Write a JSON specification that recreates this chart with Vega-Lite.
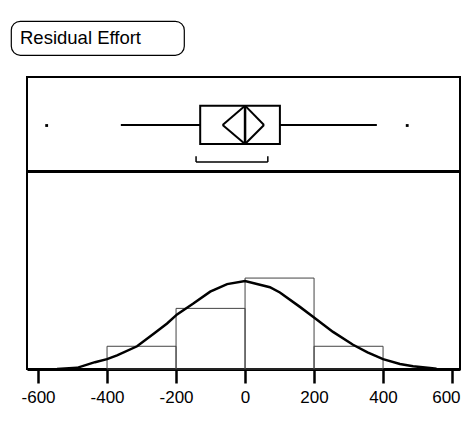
{
  "$schema": "https://vega.github.io/schema/vega-lite/v6.json",
  "padding": {"left": 10, "top": 20, "right": 0, "bottom": 0},
  "background": "white",
  "config": {
    "view": {"stroke": "black", "strokeWidth": 2},
    "font": "Liberation Sans"
  },
  "datasets": {
    "stats": [{"q1": -130, "q3": 101, "median": 0, "wlo": -360, "whi": 382, "mean": 0, "cilo": -65, "cihi": 55, "shlo": -142, "shhi": 66}],
    "outliers": [{"value": -575}, {"value": 470}],
    "bins": [
      {"bin_start": -400, "bin_end": -200, "count": 3},
      {"bin_start": -200, "bin_end": 0, "count": 8},
      {"bin_start": 0, "bin_end": 200, "count": 12},
      {"bin_start": 200, "bin_end": 400, "count": 3}
    ],
    "curve": [
      {"value": -545, "density": 0},
      {"value": -487, "density": 0.15},
      {"value": -435, "density": 0.9},
      {"value": -400, "density": 1.3},
      {"value": -371, "density": 1.8},
      {"value": -313, "density": 3.0},
      {"value": -261, "density": 4.8},
      {"value": -226, "density": 6.0},
      {"value": -197, "density": 7.2},
      {"value": -151, "density": 8.6},
      {"value": -101, "density": 10.2},
      {"value": -52, "density": 11.2},
      {"value": 0, "density": 11.6},
      {"value": 72, "density": 10.8},
      {"value": 101, "density": 10.1},
      {"value": 159, "density": 8.2},
      {"value": 197, "density": 6.9},
      {"value": 255, "density": 4.9},
      {"value": 313, "density": 3.2},
      {"value": 355, "density": 2.2},
      {"value": 400, "density": 1.3},
      {"value": 449, "density": 0.66},
      {"value": 487, "density": 0.35},
      {"value": 536, "density": 0.13},
      {"value": 555, "density": 0.03}
    ]
  },
  "spacing": 20,
  "vconcat": [
    {
      "width": 173,
      "height": 34,
      "view": {"stroke": "black", "strokeWidth": 1.2, "cornerRadius": 9},
      "data": {"values": [{"label": "Residual Effort"}]},
      "mark": {"type": "text", "align": "left", "baseline": "middle", "fontSize": 18.5, "font": "Liberation Sans", "color": "black", "dx": 9},
      "encoding": {
        "text": {"field": "label"},
        "x": {"datum": 0, "type": "quantitative", "scale": {"domain": [0, 1]}, "axis": null},
        "y": {"datum": 0.5, "type": "quantitative", "scale": {"domain": [0, 1]}, "axis": null}
      }
    },
    {
      "spacing": 8,
      "hconcat": [
        {
          "width": 1,
          "height": 1,
          "view": {"stroke": null},
          "data": {"values": []},
          "mark": {"type": "point"},
          "encoding": {}
        },
        {
          "spacing": -2,
          "vconcat": [
            {
              "width": 433,
              "height": 94,
              "data": {"name": "stats"},
              "layer": [
                {
                  "mark": {"type": "rule", "color": "black", "strokeWidth": 2},
                  "encoding": {
                    "x": {"field": "wlo", "type": "quantitative", "scale": {"domain": [-632, 623], "nice": false, "zero": false}, "axis": null},
                    "x2": {"field": "q1"},
                    "y": {"datum": 0.49, "type": "quantitative", "scale": {"domain": [0, 1]}, "axis": null}
                  }
                },
                {
                  "mark": {"type": "rule", "color": "black", "strokeWidth": 2},
                  "encoding": {
                    "x": {"field": "q3", "type": "quantitative"},
                    "x2": {"field": "whi"},
                    "y": {"datum": 0.49, "type": "quantitative"}
                  }
                },
                {
                  "mark": {"type": "rect", "fill": "white", "stroke": "black", "strokeWidth": 2},
                  "encoding": {
                    "x": {"field": "q1", "type": "quantitative"},
                    "x2": {"field": "q3"},
                    "y": {"datum": 0.287, "type": "quantitative"},
                    "y2": {"datum": 0.695}
                  }
                },
                {
                  "mark": {"type": "rule", "color": "black", "strokeWidth": 2},
                  "encoding": {
                    "x": {"field": "cilo", "type": "quantitative"},
                    "y": {"datum": 0.49, "type": "quantitative"},
                    "x2": {"field": "mean"},
                    "y2": {"datum": 0.695}
                  }
                },
                {
                  "mark": {"type": "rule", "color": "black", "strokeWidth": 2},
                  "encoding": {
                    "x": {"field": "mean", "type": "quantitative"},
                    "y": {"datum": 0.695, "type": "quantitative"},
                    "x2": {"field": "cihi"},
                    "y2": {"datum": 0.49}
                  }
                },
                {
                  "mark": {"type": "rule", "color": "black", "strokeWidth": 2},
                  "encoding": {
                    "x": {"field": "cihi", "type": "quantitative"},
                    "y": {"datum": 0.49, "type": "quantitative"},
                    "x2": {"field": "mean"},
                    "y2": {"datum": 0.287}
                  }
                },
                {
                  "mark": {"type": "rule", "color": "black", "strokeWidth": 2},
                  "encoding": {
                    "x": {"field": "mean", "type": "quantitative"},
                    "y": {"datum": 0.287, "type": "quantitative"},
                    "x2": {"field": "cilo"},
                    "y2": {"datum": 0.49}
                  }
                },
                {
                  "mark": {"type": "rule", "color": "black", "strokeWidth": 2.5},
                  "encoding": {
                    "x": {"field": "median", "type": "quantitative"},
                    "y": {"datum": 0.287, "type": "quantitative"},
                    "y2": {"datum": 0.695}
                  }
                },
                {
                  "mark": {"type": "rule", "color": "black", "strokeWidth": 1.5},
                  "encoding": {
                    "x": {"field": "shlo", "type": "quantitative"},
                    "x2": {"field": "shhi"},
                    "y": {"datum": 0.096, "type": "quantitative"}
                  }
                },
                {
                  "mark": {"type": "rule", "color": "black", "strokeWidth": 1.5},
                  "encoding": {
                    "x": {"field": "shlo", "type": "quantitative"},
                    "y": {"datum": 0.096, "type": "quantitative"},
                    "y2": {"datum": 0.156}
                  }
                },
                {
                  "mark": {"type": "rule", "color": "black", "strokeWidth": 1.5},
                  "encoding": {
                    "x": {"field": "shhi", "type": "quantitative"},
                    "y": {"datum": 0.096, "type": "quantitative"},
                    "y2": {"datum": 0.156}
                  }
                },
                {
                  "data": {"name": "outliers"},
                  "mark": {"type": "point", "shape": "square", "filled": true, "color": "black", "size": 8, "opacity": 1},
                  "encoding": {
                    "x": {"field": "value", "type": "quantitative"},
                    "y": {"datum": 0.484, "type": "quantitative"}
                  }
                }
              ]
            },
            {
              "width": 433,
              "height": 197,
              "layer": [
                {
                  "data": {"name": "bins"},
                  "mark": {"type": "rect", "fill": null, "fillOpacity": 0, "stroke": "#444444", "strokeWidth": 1},
                  "encoding": {
                    "x": {
                      "field": "bin_start", "type": "quantitative",
                      "scale": {"domain": [-632, 623], "nice": false, "zero": false},
                      "axis": {
                        "values": [-600, -400, -200, 0, 200, 400, 600],
                        "labelExpr": "'' + datum.value",
                        "tickSize": 14, "tickWidth": 2.5, "tickColor": "black",
                        "domain": true, "domainWidth": 3, "domainColor": "black",
                        "labelFontSize": 17, "labelColor": "black", "labelFont": "Liberation Sans",
                        "labelPadding": 6, "grid": false, "title": null,
                        "labelFlush": 10, "labelFlushOffset": 8, "labelOverlap": false, "labelBound": false
                      }
                    },
                    "x2": {"field": "bin_end"},
                    "y": {"field": "count", "type": "quantitative", "scale": {"domain": [0, 26], "nice": false}, "axis": null},
                    "y2": {"datum": 0}
                  }
                },
                {
                  "data": {"name": "curve"},
                  "mark": {"type": "line", "color": "black", "strokeWidth": 2.5},
                  "encoding": {
                    "x": {"field": "value", "type": "quantitative"},
                    "y": {"field": "density", "type": "quantitative"}
                  }
                }
              ]
            }
          ]
        }
      ]
    }
  ]
}
